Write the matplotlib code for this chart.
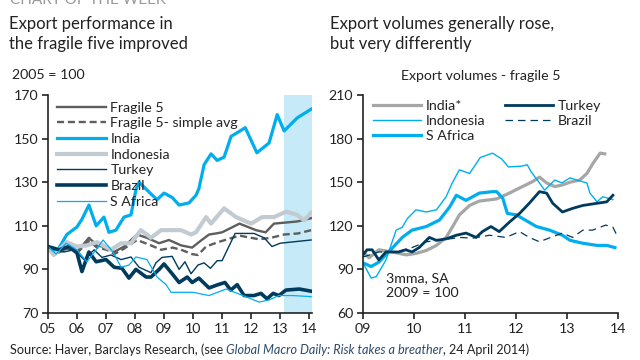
import matplotlib
matplotlib.use('Agg')
import matplotlib.pyplot as plt

plt.rcParams['font.family'] = ['Lato', 'DejaVu Sans']

# --- colours
CYAN = '#00AEEF'
NAVY = '#003A5D'
DGREY = '#5E5E5E'
LGREY = '#C3CBD2'
MGREY = '#A6A6A6'
TXT = '#222222'
FS = 10.2  # small text size

# --- left chart: 2005 = 100
f5_x = [2005.0, 2005.3, 2005.8, 2006.0, 2006.41, 2006.69, 2007.03, 2007.28, 2007.62, 2008.07,
        2008.41, 2008.83, 2009.17, 2009.59, 2009.97, 2010.2, 2010.55, 2010.79, 2011.0, 2011.6,
        2012.17, 2012.5, 2012.79, 2013.2, 2013.6, 2014.07]
f5_y = [100, 98, 100, 98, 104.5, 101, 100, 98, 100.5, 106,
        104.5, 102, 103.5, 101, 100, 102.5, 106, 106.5, 107, 111,
        108, 107, 111, 111.5, 112, 113.5]

f5avg_x = [2005.0, 2005.3, 2005.8, 2006.0, 2006.41, 2006.69, 2007.03, 2007.28, 2007.62, 2008.07,
           2008.55, 2008.9, 2009.3, 2009.59, 2009.97, 2010.17, 2010.45, 2010.86, 2011.6, 2012.28,
           2012.69, 2013.14, 2013.62, 2014.07]
f5avg_y = [100, 97.5, 99.5, 97.5, 103, 100, 99, 97, 99.5, 103.5,
           101, 99, 100, 99, 97, 96.6, 100.5, 102.5, 105.5, 103.8,
           104.5, 106, 106.5, 108]

india_x = [2005.0, 2005.3, 2005.65, 2006.0, 2006.17, 2006.41, 2006.66, 2006.93, 2007.1, 2007.34,
           2007.62, 2007.86, 2008.03, 2008.14, 2008.48, 2008.76, 2009.0, 2009.28, 2009.52, 2009.86,
           2010.1, 2010.2, 2010.38, 2010.62, 2010.83, 2011.07, 2011.31, 2011.8, 2012.2, 2012.62,
           2012.9, 2013.14, 2013.59, 2014.07]
india_y = [99, 98, 106, 109.5, 113, 119.5, 110, 114, 107, 108,
           114, 115, 126.5, 130, 125.5, 122, 125, 123, 119.5, 120.5,
           124, 127, 138, 143, 140, 141.5, 151, 155, 143.5, 148,
           161, 153.5, 159.5, 163.5]

indo_x = [2005.0, 2005.2, 2005.65, 2006.0, 2006.34, 2006.69, 2007.17, 2007.52, 2007.86, 2008.2,
          2008.55, 2008.9, 2009.28, 2009.59, 2009.93, 2010.1, 2010.45, 2010.62, 2011.07, 2011.48,
          2012.0, 2012.38, 2012.79, 2013.21, 2013.59, 2013.83, 2014.07]
indo_y = [100, 96.6, 102.5, 100.5, 101, 102.5, 99, 102, 102, 108,
          104.5, 108, 108, 108, 106, 107, 114, 111, 118, 114,
          111, 114, 114, 116.5, 115, 112.5, 116]

turk_x = [2005.0, 2005.55, 2005.9, 2006.24, 2006.59, 2006.86, 2007.17, 2007.52, 2007.86, 2008.14,
          2008.55, 2008.72, 2008.93, 2009.28, 2009.52, 2009.72, 2009.93, 2010.17, 2010.38, 2010.6,
          2010.83, 2011.0, 2011.45, 2011.76, 2012.1, 2012.45, 2012.72, 2013.0, 2014.07]
turk_y = [100.5, 98, 99, 94.5, 99, 95.5, 96.6, 94.5, 95.7, 91,
          88.5, 93, 95.5, 96, 90, 93.5, 88, 92, 93, 90.5,
          94, 94, 106.5, 106.5, 106.5, 104.5, 100.5, 102, 103.5]

braz_x = [2005.0, 2005.38, 2005.72, 2006.0, 2006.17, 2006.41, 2006.66, 2007.0, 2007.28, 2007.55,
          2007.79, 2008.03, 2008.38, 2008.55, 2008.83, 2009.0, 2009.28, 2009.52, 2009.8, 2009.97,
          2010.2, 2010.55, 2010.86, 2011.1, 2011.3, 2011.52, 2011.76, 2012.1, 2012.34, 2012.55,
          2012.76, 2012.96, 2013.2, 2013.66, 2014.07]
braz_y = [100.5, 99, 100.5, 97.5, 89, 98, 93.5, 94.5, 91, 90.5,
          86, 90, 86.5, 86.5, 90, 92.5, 88, 84, 86.5, 84,
          86, 81.5, 83, 84, 80.5, 83, 78, 78, 79, 76.5,
          79, 78, 80.5, 81, 80]

safr_x = [2005.0, 2005.28, 2005.62, 2006.0, 2006.34, 2006.66, 2006.9, 2007.24, 2007.52, 2007.79,
          2008.03, 2008.41, 2008.76, 2009.07, 2009.24, 2009.59, 2010.0, 2010.55, 2011.14, 2011.72,
          2012.28, 2012.62, 2012.96, 2013.45, 2014.07]
safr_y = [100.5, 97, 102, 99, 93.5, 99, 103.5, 98, 91, 92,
          95.7, 94.5, 86.5, 83, 79.5, 79.5, 79.5, 78, 81, 78,
          75, 76, 78, 78, 77.5]

left_xticks = list(range(2005, 2015))
left_xlabels = ['05', '06', '07', '08', '09', '10', '11', '12', '13', '14']
left_yticks = [70, 90, 110, 130, 150, 170]
shade_start, shade_end = 2013.15, 2014.1

# --- right chart: export volumes, 2009 = 100
r_india_x = [2009.0, 2009.12, 2009.31, 2009.57, 2009.85, 2010.04, 2010.24, 2010.44, 2010.63, 2010.75,
             2010.89, 2011.09, 2011.28, 2011.62, 2011.87, 2012.07, 2012.33, 2012.46, 2012.6, 2012.76,
             2012.9, 2013.06, 2013.25, 2013.39, 2013.51, 2013.65, 2013.74]
r_india_y = [102, 98, 103.5, 102, 100, 101, 103, 106.5, 112, 119,
             127.5, 134, 137, 138.5, 142.5, 146, 150.5, 153.5, 149.5, 147,
             148, 150, 151.5, 156, 163, 170, 169.5]

r_indo_x = [2009.0, 2009.16, 2009.26, 2009.45, 2009.65, 2009.77, 2009.87, 2010.04, 2010.24, 2010.44,
            2010.63, 2010.75, 2010.89, 2011.09, 2011.3, 2011.54, 2011.72, 2011.85, 2012.1, 2012.22,
            2012.3, 2012.46, 2012.56, 2012.66, 2012.76, 2012.9, 2013.06, 2013.19, 2013.39, 2013.45,
            2013.59, 2013.7, 2013.8, 2013.9]
r_indo_y = [94.5, 84, 85, 96.5, 117, 119, 125, 131, 129.5, 131,
            140, 149.5, 158.5, 156, 167, 170, 166, 160.5, 161, 162,
            157, 149.5, 144.5, 148, 151.5, 149.5, 153, 151.5, 149.5, 142.5,
            136.5, 140, 139, 138]

r_safr_x = [2009.0, 2009.16, 2009.31, 2009.57, 2009.77, 2009.96, 2010.24, 2010.5, 2010.7, 2010.83,
            2011.02, 2011.28, 2011.54, 2011.62, 2011.74, 2011.83, 2012.01, 2012.13, 2012.4, 2012.66,
            2012.91, 2013.06, 2013.31, 2013.59, 2013.78, 2013.94]
r_safr_y = [94.5, 92, 95, 104.5, 112, 117, 119.5, 124, 133, 141,
            137.5, 142.5, 143.5, 143.5, 139, 128.5, 127.5, 125, 119.5, 117,
            113.5, 110, 108, 106.5, 106.5, 105]

r_turk_x = [2009.0, 2009.08, 2009.18, 2009.31, 2009.45, 2009.7, 2009.84, 2009.96, 2010.1, 2010.3,
            2010.44, 2010.63, 2010.83, 2011.02, 2011.22, 2011.34, 2011.51, 2011.67, 2011.87, 2012.07,
            2012.26, 2012.46, 2012.6, 2012.72, 2012.91, 2013.11, 2013.31, 2013.59, 2013.78, 2013.9]
r_turk_y = [100, 103.5, 103.5, 96.5, 102, 102, 103.5, 102, 105, 112,
            110, 111, 113.5, 115, 112, 116, 119.5, 116, 122.5, 128.5,
            135.5, 143.5, 142.5, 135.5, 129.5, 132, 134, 135.5, 136.5, 141]

r_braz_x = [2009.0, 2009.31, 2009.65, 2009.96, 2010.24, 2010.5, 2010.89, 2011.15, 2011.48, 2011.8,
            2012.07, 2012.26, 2012.46, 2012.68, 2012.91, 2013.11, 2013.31, 2013.5, 2013.76, 2013.9,
            2014.0]
r_braz_y = [98.5, 102, 102, 105, 109, 110, 112, 111.5, 113.5, 112,
            116, 112, 109, 112, 115, 112, 117, 117, 120.5, 119,
            112]

right_xticks = list(range(2009, 2015))
right_xlabels = ['09', '10', '11', '12', '13', '14']
right_yticks = [60, 90, 120, 150, 180, 210]


def style_axis(ax):
    for s in ['top', 'right']:
        ax.spines[s].set_visible(False)
    for s in ['left', 'bottom']:
        ax.spines[s].set_color('#222222')
        ax.spines[s].set_linewidth(1.2)
    ax.tick_params(axis='both', colors='#222222', labelsize=FS, length=4, width=1.2,
                   labelcolor=TXT, pad=3)


fig = plt.figure(figsize=(6.4, 3.6), dpi=100)

# ----- left panel
ax1 = fig.add_axes([48 / 640, 1 - 313 / 360, 264 / 640, 218 / 360])
ax1.axvspan(shade_start, shade_end, color='#C6EAF8', lw=0, zorder=0)
ax1.plot(f5_x, f5_y, color=DGREY, lw=1.7, label='Fragile 5')
ax1.plot(f5avg_x, f5avg_y, color=DGREY, lw=1.7, ls=(0, (3, 1.6)), label='Fragile 5- simple avg')
ax1.plot(india_x, india_y, color=CYAN, lw=2.3, label='India')
ax1.plot(indo_x, indo_y, color=LGREY, lw=3.0, label='Indonesia')
ax1.plot(turk_x, turk_y, color=NAVY, lw=1.0, label='Turkey')
ax1.plot(braz_x, braz_y, color=NAVY, lw=2.6, label='Brazil')
ax1.plot(safr_x, safr_y, color=CYAN, lw=0.9, label='S Africa')
ax1.set_xlim(2005, 2014.1)
ax1.set_ylim(70, 170)
ax1.set_xticks(left_xticks)
ax1.set_xticklabels(left_xlabels)
ax1.set_yticks(left_yticks)
style_axis(ax1)
ax1.legend(loc='upper left', bbox_to_anchor=(0.035, 0.97), frameon=False, fontsize=FS,
           handlelength=3.45, handletextpad=0.3, labelspacing=0.26, borderpad=0, borderaxespad=0,
           labelcolor=TXT)

# ----- right panel
ax2 = fig.add_axes([363 / 640, 1 - 313 / 360, 255 / 640, 218 / 360])
ax2.plot(r_india_x, r_india_y, color=MGREY, lw=2.3, label='India*')
ax2.plot(r_indo_x, r_indo_y, color=CYAN, lw=1.0, label='Indonesia')
ax2.plot(r_safr_x, r_safr_y, color=CYAN, lw=2.3, label='S Africa')
ax2.plot(r_turk_x, r_turk_y, color=NAVY, lw=2.0, label='Turkey')
ax2.plot(r_braz_x, r_braz_y, color=NAVY, lw=0.9, ls=(0, (6, 4)), label='Brazil')
ax2.set_xlim(2009, 2014)
ax2.set_ylim(60, 210)
ax2.set_xticks(right_xticks)
ax2.set_xticklabels(right_xlabels)
ax2.set_yticks(right_yticks)
style_axis(ax2)
ax2.legend(loc='upper left', bbox_to_anchor=(0.04, 0.975), ncol=2, frameon=False, fontsize=FS,
           handlelength=3.4, handletextpad=0.3, labelspacing=0.2, columnspacing=1.4,
           borderpad=0, borderaxespad=0, labelcolor=TXT)
ax2.text(0.09, 0.126, '3mma, SA\n2009 = 100', transform=ax2.transAxes, fontsize=FS,
         color=TXT, va='center', ha='left', linespacing=1.35)

# ----- titles and notes
fig.text(10 / 640, 1.0, 'CHART OF THE WEEK', fontsize=11, color='#9A9A9A', va='center', ha='left')
fig.text(9 / 640, 1 - 34 / 360, 'Export performance in\nthe fragile five improved', fontsize=12,
         color=TXT, va='center', ha='left', linespacing=1.25)
fig.text(330 / 640, 1 - 34 / 360, 'Export volumes generally rose,\nbut very differently', fontsize=12,
         color=TXT, va='center', ha='left', linespacing=1.25)
fig.text(12 / 640, 1 - 75 / 360, '2005 = 100', fontsize=FS, color=TXT, va='center', ha='left')
fig.text(481 / 640, 1 - 76 / 360, 'Export volumes - fragile 5', fontsize=FS, color=TXT,
         va='center', ha='center')

# source line with an italic piece in the middle
pieces = [('Source: Haver, Barclays Research, (see ', 'normal', TXT),
          ('Global Macro Daily: Risk takes a breather', 'italic', '#2B4B6B'),
          (', 24 April 2014)', 'normal', TXT)]
renderer = fig.canvas.get_renderer()
xpos = 10 / 640
for s, st, c in pieces:
    t = fig.text(xpos, 1 - 350 / 360, s, fontsize=9.1, style=st, color=c, va='center', ha='left')
    bb = t.get_window_extent(renderer=renderer)
    xpos = bb.x1 / fig.bbox.width

fig.savefig('out.png', dpi=100)
